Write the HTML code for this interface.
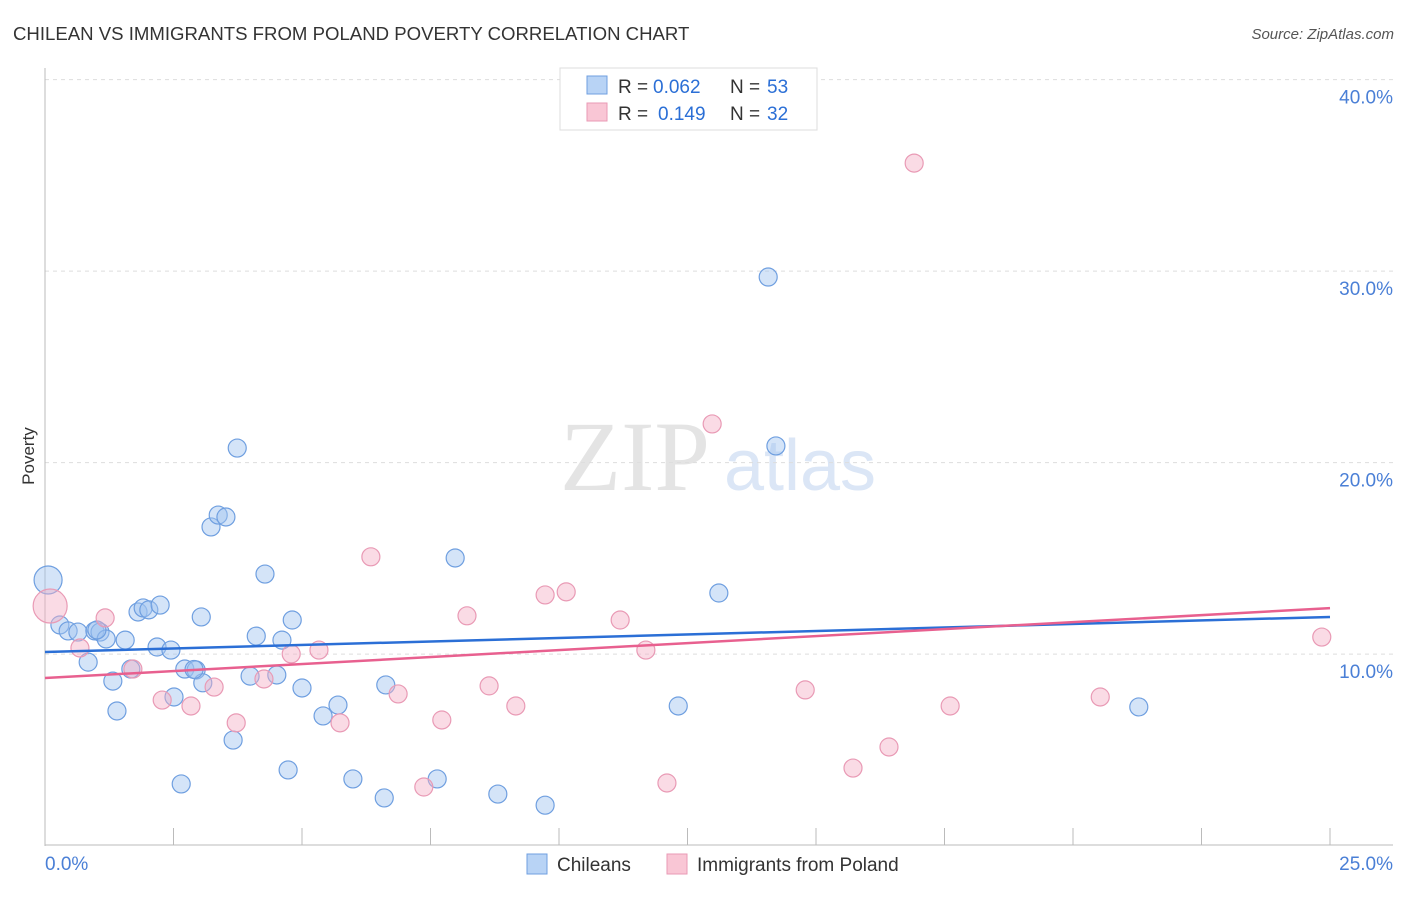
<!DOCTYPE html>
<html><head><meta charset="utf-8"><style>
body{margin:0;background:#fff;font-family:"Liberation Sans",sans-serif;}
</style></head><body>
<svg width="1406" height="892" xmlns="http://www.w3.org/2000/svg">
<text x="13" y="40" font-size="18.6" fill="#333">CHILEAN VS IMMIGRANTS FROM POLAND POVERTY CORRELATION CHART</text>
<text x="1394" y="39" font-size="15" fill="#555" font-style="italic" text-anchor="end">Source: ZipAtlas.com</text>
<g>
<text x="635" y="490" font-size="100" font-family="Liberation Serif,serif" fill="#e4e4e4" text-anchor="middle">ZIP</text>
<text x="800" y="490" font-size="72" fill="#dbe6f6" text-anchor="middle">atlas</text>
</g>
<g id="grid"></g>
<g id="axes"></g>
<g id="marks"></g>
<text x="34" y="456" font-size="17" fill="#333" text-anchor="middle" transform="rotate(-90 34 456)">Poverty</text>
<g>
<rect x="560" y="68" width="257" height="62" fill="#fff" stroke="#ddd"/>
<rect x="587" y="76" width="20" height="18" fill="#b8d3f5" stroke="#6f9fe0"/>
<rect x="587" y="103" width="20" height="18" fill="#f9c6d5" stroke="#e99ab5"/>
<g font-size="19" fill="#333">
<text x="618" y="93">R =</text>
<text x="653" y="93" fill="#2b6fd6">0.062</text>
<text x="730" y="93">N =</text>
<text x="767" y="93" fill="#2b6fd6">53</text>
<text x="618" y="120">R =</text>
<text x="658" y="120" fill="#2b6fd6">0.149</text>
<text x="730" y="120">N =</text>
<text x="767" y="120" fill="#2b6fd6">32</text>
</g>
</g>
<g>
<rect x="527" y="854" width="20" height="20" fill="#b8d3f5" stroke="#6f9fe0"/>
<text x="557" y="871" font-size="19" fill="#333">Chileans</text>
<rect x="667" y="854" width="20" height="20" fill="#f9c6d5" stroke="#e99ab5"/>
<text x="697" y="871" font-size="19" fill="#333">Immigrants from Poland</text>
</g>
</svg>
<script>
const yTicks=[10,20,30,40];
const yTickLabels=["10.0%","20.0%","30.0%","40.0%"];
const xTickCount=10;
const blueX=[0.06,0.29,0.45,0.64,0.97,1.07,1.19,1.56,0.84,1.32,1.40,1.67,1.81,1.91,2.02,2.24,2.18,2.45,2.51,2.65,2.72,2.94,3.04,3.07,3.23,3.37,3.52,3.66,3.74,3.99,4.11,4.28,4.51,4.61,4.73,4.81,5.00,5.41,5.70,5.99,6.60,6.63,7.63,7.98,8.81,9.73,12.32,13.11,14.07,14.22,21.28,1.01,2.90];
const blueY=[13.87,11.52,11.21,11.15,11.21,11.15,10.79,10.73,9.58,8.59,7.03,9.22,12.20,12.41,12.31,12.56,10.37,10.21,7.76,3.22,9.22,9.17,11.94,8.50,16.64,17.26,17.16,5.51,20.76,8.85,10.94,14.18,8.91,10.73,3.95,11.78,8.23,6.77,7.34,3.48,2.49,8.39,3.48,15.02,2.69,2.11,7.29,13.19,29.69,20.87,7.24,11.26,9.20];
const pinkX=[0.10,0.68,1.17,1.71,2.28,2.84,3.29,3.72,4.26,4.79,5.33,5.74,6.34,6.87,7.37,7.72,8.21,8.64,9.16,9.73,10.14,11.19,11.69,12.10,12.98,14.79,15.72,16.42,16.91,17.61,20.53,24.84];
const pinkY=[12.51,10.32,11.89,9.22,7.60,7.29,8.28,6.41,8.70,10.01,10.21,6.41,15.08,7.92,3.06,6.56,12.00,8.34,7.29,13.09,13.25,11.78,10.21,3.27,22.02,8.13,4.05,5.15,35.64,7.29,7.76,10.89];
const blueTrend=[10.11,11.94];
const pinkTrend=[8.75,12.40];
const NS="http://www.w3.org/2000/svg";
const X=v=>45+v*51.4, Y=v=>845.6-v*19.15;
function mk(t,a,p){const e=document.createElementNS(NS,t);for(const k in a)e.setAttribute(k,a[k]);p.appendChild(e);return e;}
const grid=document.getElementById('grid'),axes=document.getElementById('axes'),marks=document.getElementById('marks');
yTicks.forEach((t,i)=>{
 const l=mk('line',{x1:45,x2:1393,y1:Y(t),y2:Y(t),stroke:'#ddd','stroke-dasharray':'4,4'},grid);
 
 
 const tx=mk('text',{x:1393,y:Y(t)+24,'font-size':19,fill:'#4a7fd6','text-anchor':'end'},axes);
 tx.textContent=yTickLabels[i];
 
 
});
let a=mk('line',{x1:45,x2:45,y1:68,y2:846,stroke:'#bbb'},axes);


a=mk('line',{x1:45,x2:1393,y1:845,y2:845,stroke:'#bbb'},axes);


for(let i=1;i<=xTickCount;i++){const v=i*2.5;const t=mk('line',{x1:X(v),x2:X(v),y1:828,y2:845,stroke:'#bbb'},axes);
 
 }
let xl=mk('text',{x:45,y:870,'font-size':19,fill:'#4a7fd6'},axes);xl.textContent='0.0%';


xl=mk('text',{x:1393,y:870,'font-size':19,fill:'#4a7fd6','text-anchor':'end'},axes);xl.textContent='25.0%';


function pts(xs,ys,fill,stroke,name){xs.forEach((x,i)=>{const r=i===0?(name==='chilean'?14:17):9;
 const c=mk('circle',{cx:X(x),cy:Y(ys[i]),r:r,fill:fill,stroke:stroke,'stroke-width':1.2},marks);
 
 });}
pts(blueX,blueY,'rgba(160,196,240,0.45)','#6f9fe0','chilean');
pts(pinkX,pinkY,'rgba(245,175,198,0.45)','#e99ab5','poland');
let tl=mk('line',{x1:X(0),x2:X(25),y1:Y(blueTrend[0]),y2:Y(blueTrend[1]),stroke:'#2b6fd6','stroke-width':2.5},marks);


tl=mk('line',{x1:X(0),x2:X(25),y1:Y(pinkTrend[0]),y2:Y(pinkTrend[1]),stroke:'#e8608f','stroke-width':2.5},marks);


</script>
</body></html>
